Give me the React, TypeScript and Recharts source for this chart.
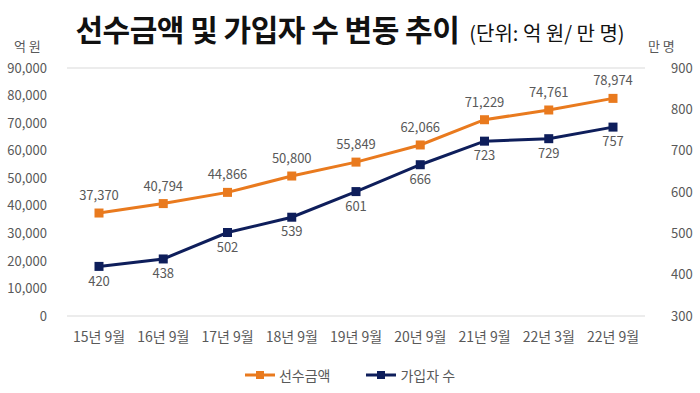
import React from 'react';
import { LineChart, Line, XAxis, YAxis, CartesianGrid, LabelList, Legend } from 'recharts';

const categories = ['15년 9월', '16년 9월', '17년 9월', '18년 9월', '19년 9월', '20년 9월', '21년 9월', '22년 3월', '22년 9월'];
const prepaid = [37370, 40794, 44866, 50800, 55849, 62066, 71229, 74761, 78974];
const members = [420, 438, 502, 539, 601, 666, 723, 729, 757];
const leftTicks = [0, 10000, 20000, 30000, 40000, 50000, 60000, 70000, 80000, 90000];
const rightTicks = [300, 400, 500, 600, 700, 800, 900];

const data = categories.map((c, i) => ({ name: c, prepaid: prepaid[i], members: members[i] }));

const ORANGE = '#E97A1E';
const NAVY = '#0E1E5B';
const FONT = '"Noto Sans CJK KR", "Noto Sans", sans-serif';

export default function App() {
  return (
    <div style={{ position: 'absolute', left: 0, top: 0, width: 700, height: 393, background: '#fff', fontFamily: FONT }}>
      <div style={{ position: 'absolute', left: 0, top: 6, width: 700, textAlign: 'center', whiteSpace: 'nowrap' }}>
        <span style={{ fontSize: 30, fontWeight: 700, color: '#111', letterSpacing: -0.5 }}>선수금액 및 가입자 수 변동 추이</span>
        <span style={{ fontSize: 20, color: '#111', marginLeft: 10 }}>(단위: 억 원/ 만 명)</span>
      </div>
      <div style={{ position: 'absolute', left: 14, top: 36, fontSize: 13, color: '#595959' }}>억 원</div>
      <div style={{ position: 'absolute', left: 648, top: 36, fontSize: 13, color: '#595959' }}>만 명</div>
      <div style={{ position: 'absolute', left: 0, top: 0 }}>
        <LineChart width={700} height={393} data={data} margin={{ top: 68, right: 0, left: 0, bottom: 8 }}>
          <CartesianGrid vertical={false} stroke="#d9d9d9" />
          <XAxis dataKey="name" axisLine={false} tickLine={false} height={40} padding={{ left: 32, right: 32 }}
            tick={{ fill: '#595959', fontSize: 14, fontFamily: FONT }} tickMargin={10} />
          <YAxis yAxisId="left" orientation="left" width={67} domain={[0, 90000]} ticks={leftTicks}
            axisLine={false} tickLine={false} tickFormatter={(v: number) => v.toLocaleString('en-US')}
            tick={{ fill: '#595959', fontSize: 13, fontFamily: FONT }} tickMargin={14} />
          <YAxis yAxisId="right" orientation="right" width={55} domain={[300, 900]} ticks={rightTicks}
            axisLine={false} tickLine={false}
            tick={{ fill: '#595959', fontSize: 13, fontFamily: FONT }} tickMargin={20} />
          <Legend verticalAlign="bottom"
            content={() => (
              <div style={{ display: 'flex', justifyContent: 'center', gap: 36, fontSize: 14, color: '#595959', paddingTop: 9 }}>
                {[{ c: ORANGE, t: '선수금액' }, { c: NAVY, t: '가입자 수' }].map((it) => (
                  <div key={it.t} style={{ display: 'flex', alignItems: 'center' }}>
                    <svg width={30} height={12} style={{ marginRight: 4 }}>
                      <line x1={0} y1={6} x2={30} y2={6} stroke={it.c} strokeWidth={3} />
                      <rect x={11} y={2} width={8} height={8} fill={it.c} />
                    </svg>
                    <span>{it.t}</span>
                  </div>
                ))}
              </div>
            )} />
          <Line yAxisId="left" type="linear" dataKey="prepaid" name="선수금액" stroke={ORANGE} strokeWidth={3}
            isAnimationActive={false}
            dot={(p: any) => <rect key={p.index} x={p.cx - 4.5} y={p.cy - 4.5} width={9} height={9} fill={ORANGE} />}>
            <LabelList dataKey="prepaid" position="top" offset={13}
              formatter={(v: any) => Number(v).toLocaleString('en-US')}
              style={{ fill: '#595959', fontSize: 13, fontFamily: FONT }} />
          </Line>
          <Line yAxisId="right" type="linear" dataKey="members" name="가입자 수" stroke={NAVY} strokeWidth={3}
            isAnimationActive={false}
            dot={(p: any) => <rect key={p.index} x={p.cx - 4.5} y={p.cy - 4.5} width={9} height={9} fill={NAVY} />}>
            <LabelList dataKey="members" position="bottom" offset={10}
              style={{ fill: '#595959', fontSize: 13, fontFamily: FONT }} />
          </Line>
        </LineChart>
      </div>
    </div>
  );
}
